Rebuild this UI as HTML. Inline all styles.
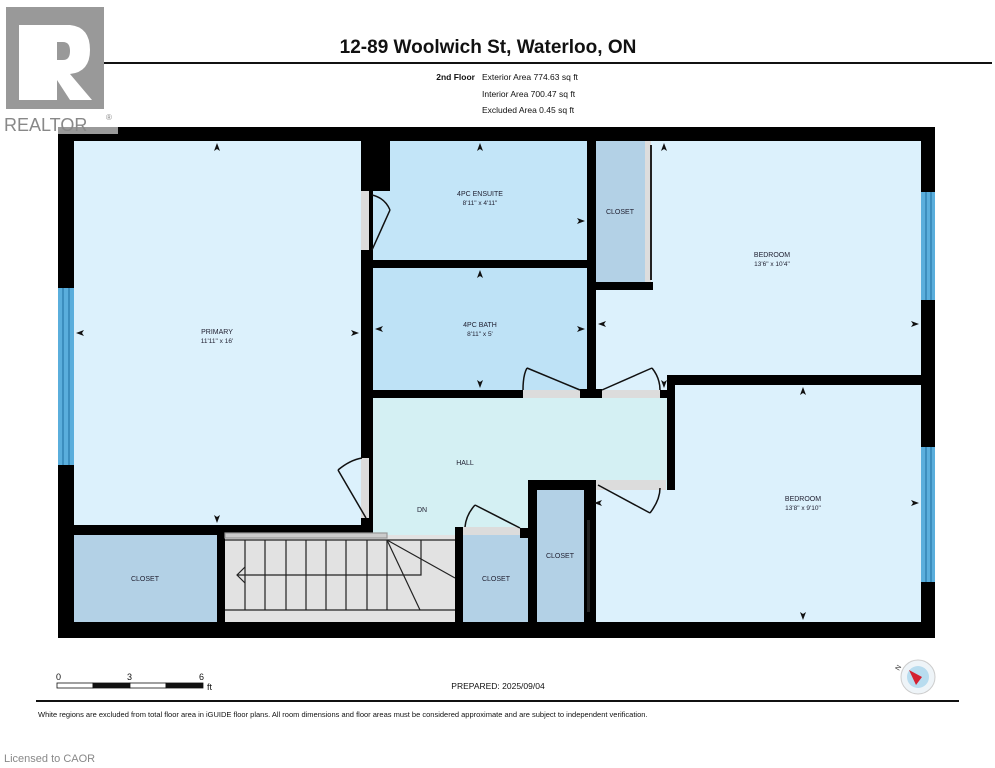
<!DOCTYPE html>
<html><head><meta charset="utf-8"><style>
html,body{margin:0;padding:0;background:#fff;width:995px;height:768px;overflow:hidden}
svg{display:block}
text{font-family:"Liberation Sans",sans-serif}
</style></head><body>
<svg width="995" height="768" viewBox="0 0 995 768" xmlns="http://www.w3.org/2000/svg">
<!-- header -->
<text x="488" y="53" font-size="19" font-weight="bold" text-anchor="middle" fill="#111">12-89 Woolwich St, Waterloo, ON</text>
<rect x="36" y="62" width="956" height="2" fill="#111"/>
<text x="475" y="80" font-size="8.5" font-weight="bold" text-anchor="end" fill="#111">2nd Floor</text>
<text x="482" y="80" font-size="8.5" fill="#111">Exterior Area 774.63 sq ft</text>
<text x="482" y="97" font-size="8.5" fill="#111">Interior Area 700.47 sq ft</text>
<text x="482" y="113" font-size="8.5" fill="#111">Excluded Area 0.45 sq ft</text>
<!-- realtor logo -->
<rect x="6" y="7" width="98" height="102" fill="#999"/>
<path d="M19 25 H70 Q90 27 90 50 Q90 72 70 74 L92 100 H70 L57 80 V100 H19 Z M57 42 V60 H63 Q70 60 70 51 Q70 42 63 42 Z" fill="#fff"/>
<!-- outer walls -->
<rect x="58" y="127" width="877" height="511" fill="#000"/>
<rect x="0" y="110" width="118" height="24" fill="#fff" opacity="0.6"/>
<text x="4" y="131" font-size="18" fill="#888">REALTOR</text><text x="106" y="120" font-size="8" fill="#888">®</text>
<!-- rooms -->
<rect x="74" y="141" width="287" height="384" fill="#dcf1fc"/>
<rect x="373" y="141" width="214" height="119" fill="#c3e5f8"/>
<rect x="373" y="268" width="214" height="122" fill="#bee2f6"/>
<rect x="596" y="141" width="325" height="234" fill="#dcf1fc"/>
<rect x="596" y="141" width="49" height="141" fill="#b3d1e6"/>
<rect x="645" y="141" width="6" height="141" fill="#ddd"/>
<rect x="596" y="290" width="72" height="100" fill="#dcf1fc"/>
<rect x="675" y="385" width="246" height="237" fill="#dcf1fc"/>
<rect x="596" y="490" width="80" height="132" fill="#dcf1fc"/>
<rect x="373" y="398" width="294" height="92" fill="#d4f0f3"/>
<rect x="373" y="490" width="157" height="48" fill="#d4f0f3"/>
<rect x="74" y="535" width="143" height="87" fill="#b3d1e6"/>
<rect x="225" y="535" width="230" height="87" fill="#e2e2e2"/>
<rect x="463" y="535" width="65" height="87" fill="#b3d1e6"/>
<rect x="537" y="490" width="47" height="132" fill="#b3d1e6"/>
<!-- interior walls -->
<g fill="#000">
<rect x="361" y="141" width="29" height="50"/>
<rect x="361" y="250" width="12" height="150"/>
<rect x="361" y="400" width="12" height="58"/>
<rect x="361" y="518" width="12" height="17"/>
<rect x="373" y="260" width="223" height="8"/>
<rect x="587" y="141" width="9" height="257"/>
<rect x="373" y="390" width="150" height="8"/>
<rect x="580" y="389" width="22" height="9"/>
<rect x="596" y="282" width="57" height="8"/>
<rect x="668" y="375" width="253" height="10"/>
<rect x="660" y="390" width="15" height="8"/>
<rect x="667" y="375" width="8" height="115"/>
<rect x="528" y="480" width="68" height="10"/>
<rect x="528" y="480" width="9" height="142"/>
<rect x="584" y="490" width="8" height="30"/>
<rect x="584" y="612" width="8" height="10"/>
<rect x="217" y="525" width="156" height="10"/>
<rect x="217" y="525" width="8" height="97"/>
<rect x="455" y="527" width="8" height="95"/>
<rect x="520" y="528" width="10" height="10"/>
<rect x="74" y="527" width="143" height="3"/>
</g>
<!-- closet sliding doors -->
<rect x="587" y="520" width="3" height="92" fill="#222"/>
<rect x="650" y="145" width="2" height="135" fill="#222"/>
<!-- windows -->
<rect x="58" y="288" width="16" height="177" fill="#5aaedc"/>
<line x1="63" y1="288" x2="63" y2="465" stroke="#1d6fa0" stroke-width="1"/><line x1="69" y1="288" x2="69" y2="465" stroke="#1d6fa0" stroke-width="1"/>
<rect x="921" y="192" width="14" height="108" fill="#5aaedc"/>
<line x1="926" y1="192" x2="926" y2="300" stroke="#1d6fa0"/><line x1="931" y1="192" x2="931" y2="300" stroke="#1d6fa0"/>
<rect x="921" y="447" width="14" height="135" fill="#5aaedc"/>
<line x1="926" y1="447" x2="926" y2="582" stroke="#1d6fa0"/><line x1="931" y1="447" x2="931" y2="582" stroke="#1d6fa0"/>
<!-- door gaps & swings -->
<g fill="#dcdcdc"><rect x="523" y="390" width="57" height="8"/><rect x="602" y="390" width="58" height="8"/><rect x="361" y="458" width="8" height="60"/><rect x="463" y="527" width="57" height="8"/><rect x="596" y="480" width="70" height="10"/><rect x="361" y="191" width="8" height="59"/></g>
<g stroke="#111" stroke-width="1.5" fill="none">
<path d="M527 368 L580 390"/><path d="M523 390 Q523 375 527 368"/>
<path d="M652 368 L602 390"/><path d="M652 368 Q660 378 660 390"/>
<path d="M338 470 L366 518"/><path d="M338 470 Q350 460 362 458"/>
<path d="M475 505 L520 528"/><path d="M475 505 Q466 515 465 527"/>
<path d="M650 513 L598 485"/><path d="M650 513 Q660 500 660 488"/>
<path d="M390 210 L372 250"/><path d="M372 195 Q385 198 390 210"/>
</g>
<!-- stairs -->
<g stroke="#222" stroke-width="1.2" fill="none">
<rect x="225" y="533" width="162" height="5" fill="#ccc" stroke="#999"/>
<line x1="225" y1="540" x2="455" y2="540"/><line x1="225" y1="610" x2="455" y2="610"/>
<line x1="245" y1="540" x2="245" y2="610"/><line x1="265" y1="540" x2="265" y2="610"/><line x1="286" y1="540" x2="286" y2="610"/><line x1="306" y1="540" x2="306" y2="610"/><line x1="326" y1="540" x2="326" y2="610"/><line x1="346" y1="540" x2="346" y2="610"/><line x1="367" y1="540" x2="367" y2="610"/><line x1="387" y1="540" x2="387" y2="610"/>
<line x1="387" y1="540" x2="455" y2="578"/><line x1="387" y1="540" x2="420" y2="610"/>
<polyline points="421,540 421,575 237,575"/><polyline points="245,567 237,575 245,583"/>
</g>
<!-- labels -->
<g font-size="7" fill="#223" text-anchor="middle">
<text x="217" y="334">PRIMARY</text><text x="217" y="343" font-size="6.5">11'11" x 16'</text>
<text x="480" y="196">4PC ENSUITE</text><text x="480" y="205" font-size="6.5">8'11" x 4'11"</text>
<text x="480" y="327">4PC BATH</text><text x="480" y="336" font-size="6.5">8'11" x 5'</text>
<text x="620" y="214">CLOSET</text>
<text x="772" y="257">BEDROOM</text><text x="772" y="266" font-size="6.5">13'6" x 10'4"</text>
<text x="803" y="501">BEDROOM</text><text x="803" y="510" font-size="6.5">13'8" x 9'10"</text>
<text x="465" y="465">HALL</text><text x="422" y="512">DN</text>
<text x="145" y="581">CLOSET</text><text x="496" y="581">CLOSET</text><text x="560" y="558">CLOSET</text>
</g>
<!-- dimension arrows -->
<g fill="#111">
<path d="M217 143 l-3 8 l3 -2 l3 2z"/><path d="M217 523 l-3 -8 l3 2 l3 -2z"/>
<path d="M76 333 l8 -3 l-2 3 l2 3z"/><path d="M359 333 l-8 -3 l2 3 l-2 3z"/>
<path d="M480 143 l-3 8 l3 -2 l3 2z"/><path d="M585 221 l-8 -3 l2 3 l-2 3z"/>
<path d="M480 270 l-3 8 l3 -2 l3 2z"/><path d="M480 388 l-3 -8 l3 2 l3 -2z"/>
<path d="M375 329 l8 -3 l-2 3 l2 3z"/><path d="M585 329 l-8 -3 l2 3 l-2 3z"/>
<path d="M664 143 l-3 8 l3 -2 l3 2z"/><path d="M598 324 l8 -3 l-2 3 l2 3z"/><path d="M919 324 l-8 -3 l2 3 l-2 3z"/>
<path d="M664 388 l-3 -8 l3 2 l3 -2z"/>
<path d="M803 387 l-3 8 l3 -2 l3 2z"/><path d="M803 620 l-3 -8 l3 2 l3 -2z"/>
<path d="M594 503 l8 -3 l-2 3 l2 3z"/><path d="M919 503 l-8 -3 l2 3 l-2 3z"/>
</g>
<!-- footer -->
<text x="56" y="680" font-size="9" fill="#111">0</text><text x="127" y="680" font-size="9" fill="#111">3</text><text x="199" y="680" font-size="9" fill="#111">6</text>
<g stroke="#111" stroke-width="0.8"><rect x="57" y="683" width="36" height="5" fill="#fff"/><rect x="93" y="683" width="37" height="5" fill="#111"/><rect x="130" y="683" width="36" height="5" fill="#fff"/><rect x="166" y="683" width="37" height="5" fill="#111"/></g>
<text x="207" y="690" font-size="9" fill="#111">ft</text>
<text x="498" y="689" font-size="8.5" text-anchor="middle" fill="#111">PREPARED: 2025/09/04</text>
<circle cx="918" cy="677" r="17" fill="#eef4f8" stroke="#ccc"/><circle cx="918" cy="677" r="11" fill="#b8dcef"/>
<path d="M909 670 L922 677 L916 685 Z" fill="#d42030"/>
<text x="899" y="671" font-size="7" fill="#333" transform="rotate(-60 899 671)">N</text>
<rect x="36" y="700" width="923" height="2" fill="#111"/>
<text x="38" y="717" font-size="7.5" fill="#111">White regions are excluded from total floor area in iGUIDE floor plans. All room dimensions and floor areas must be considered approximate and are subject to independent verification.</text>
<text x="4" y="762" font-size="11" fill="#888">Licensed to CAOR</text>
</svg>
</body></html>
